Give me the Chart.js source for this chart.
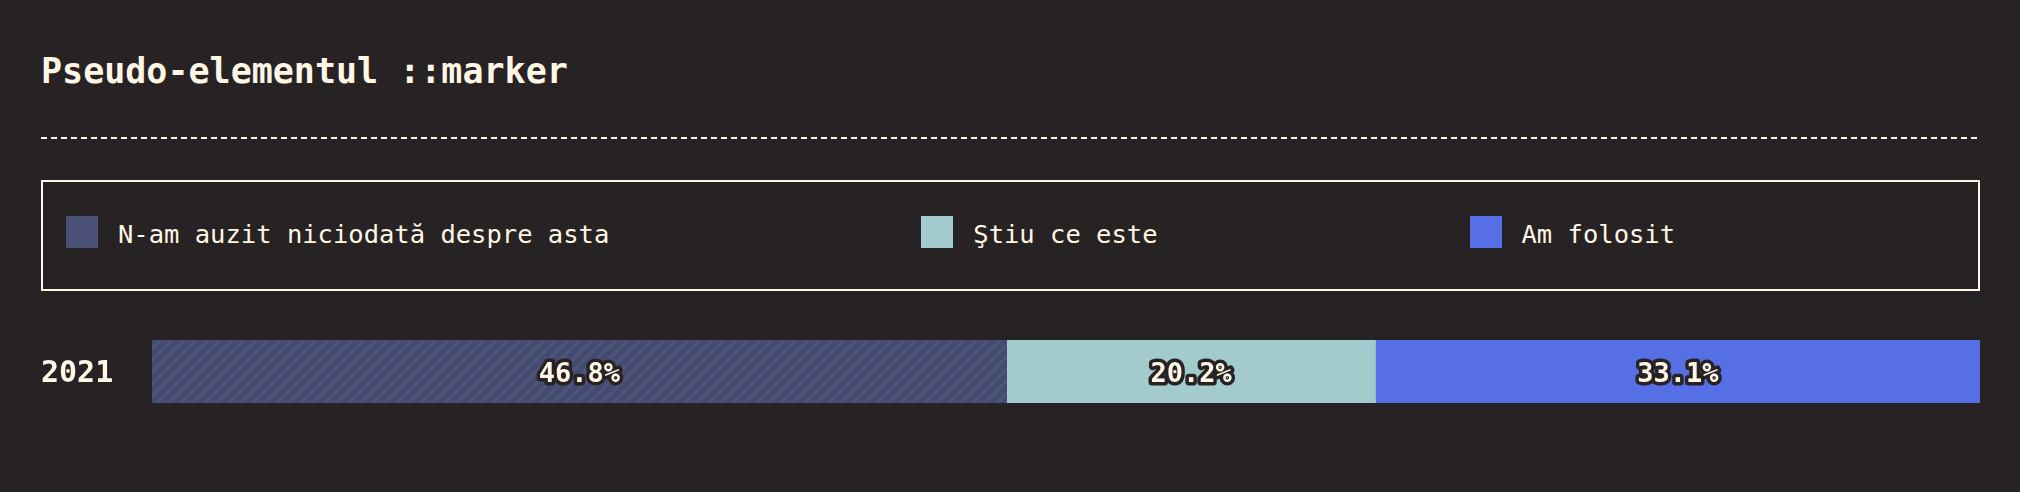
<!DOCTYPE html>
<html>
<head>
<meta charset="utf-8">
<script src="https://cdn.jsdelivr.net/npm/chart.js@4/dist/chart.umd.min.js"></script>
<style>
  html, body { margin: 0; padding: 0; background: #272324; width: 2020px; height: 492px; overflow: hidden; }
  body { position: relative; font-family: "DejaVu Sans Mono", "Liberation Mono", monospace; color: #fff6e5; }
  #title { position: absolute; left: 41px; top: 53px; font-size: 35px; line-height: 36px; font-weight: bold; white-space: nowrap; }
  #rule { position: absolute; left: 41px; top: 137px; width: 1939px; height: 2px;
          background: repeating-linear-gradient(to right, #fff6e5 0 6px, transparent 6px 10px); }
  #legend { position: absolute; left: 41px; top: 180px; width: 1935px; height: 107px; border: 2px solid #fff6e5; }
  #legendItems { position: absolute; left: 23px; top: 34px; display: flex; gap: 312px; height: 32px; }
  .item { display: flex; align-items: flex-start; height: 32px; white-space: nowrap; }
  .sw { width: 32px; height: 32px; margin-right: 20px; flex: none; }
  .lt { font-size: 25.5px; line-height: 32px; padding-top: 2px; }
  #chartWrap { position: absolute; left: 0; top: 320px; width: 2020px; height: 103px; }
</style>
</head>
<body>
<div id="title">Pseudo-elementul ::marker</div>
<div id="rule"></div>
<div id="legend"><div id="legendItems"></div></div>
<div id="chartWrap"><canvas id="c" width="2020" height="103"></canvas></div>
<script>
// ---- data ----
const categories = ["2021"];
const seriesNames = ["N-am auzit niciodată despre asta", "Ştiu ce este", "Am folosit"];
const neverHeard = [46.8];
const knowIt = [20.2];
const used = [33.1];
const seriesColors = ["#4a5076", "#a3cbce", "#566fe5"];

const CREAM = "#fff6e5";
const DARK = "#272324";

// legend (HTML)
const li = document.getElementById("legendItems");
seriesNames.forEach((n, i) => {
  const d = document.createElement("div");
  d.className = "item";
  d.innerHTML = '<div class="sw" style="background:' + seriesColors[i] + '"></div><div class="lt"></div>';
  d.querySelector(".lt").textContent = n;
  li.appendChild(d);
});

// stripe pattern for first series
function stripePattern(base, stripe) {
  const s = 12;
  const pc = document.createElement("canvas");
  pc.width = s; pc.height = s;
  const g = pc.getContext("2d");
  g.fillStyle = base; g.fillRect(0, 0, s, s);
  g.strokeStyle = stripe; g.lineWidth = 3.5;
  g.beginPath();
  g.moveTo(-3, s + 3); g.lineTo(s + 3, -3);
  g.moveTo(-3, 3); g.lineTo(3, -3);
  g.moveTo(s - 3, s + 3); g.lineTo(s + 3, s - 3);
  g.stroke();
  return document.getElementById("c").getContext("2d").createPattern(pc, "repeat");
}

const seriesData = [neverHeard, knowIt, used];
const total = categories.map((_, k) => seriesData.reduce((a, s) => a + s[k], 0));

const labelPlugin = {
  id: "segLabels",
  afterDatasetsDraw(chart) {
    const ctx = chart.ctx;
    ctx.save();
    ctx.font = "bold 27px 'DejaVu Sans Mono', monospace";
    ctx.textAlign = "center";
    ctx.textBaseline = "middle";
    ctx.lineJoin = "round";
    chart.data.datasets.forEach((ds, i) => {
      const meta = chart.getDatasetMeta(i);
      meta.data.forEach((el, k) => {
        const x = (el.x + el.base) / 2;
        const y = el.y + 3;
        const t = ds.data[k].toFixed(1) + "%";
        ctx.lineWidth = 7;
        ctx.strokeStyle = DARK;
        ctx.strokeText(t, x, y);
        ctx.fillStyle = CREAM;
        ctx.fillText(t, x, y);
      });
    });
    ctx.restore();
  }
};

new Chart(document.getElementById("c"), {
  type: "bar",
  data: {
    labels: categories,
    datasets: seriesNames.map((n, i) => ({
      label: n,
      data: seriesData[i],
      backgroundColor: i === 0 ? stripePattern("#454b6f", "#4d5379") : seriesColors[i],
      borderWidth: 0,
      barThickness: 63
    }))
  },
  options: {
    indexAxis: "y",
    responsive: false,
    animation: false,
    events: [],
    layout: { padding: { left: 41, right: 40, top: 20, bottom: 20 } },
    plugins: { legend: { display: false }, tooltip: { enabled: false }, title: { display: false } },
    scales: {
      x: { stacked: true, min: 0, max: total[0], display: false },
      y: {
        stacked: true,
        grid: { display: false },
        border: { display: false },
        ticks: { color: CREAM, font: { family: "'DejaVu Sans Mono', monospace", size: 30, weight: "bold" }, crossAlign: "far", padding: 0, labelOffset: 3 },
        afterFit(scale) { scale.width = 111; }
      }
    }
  },
  plugins: [labelPlugin]
});
</script>
</body>
</html>
